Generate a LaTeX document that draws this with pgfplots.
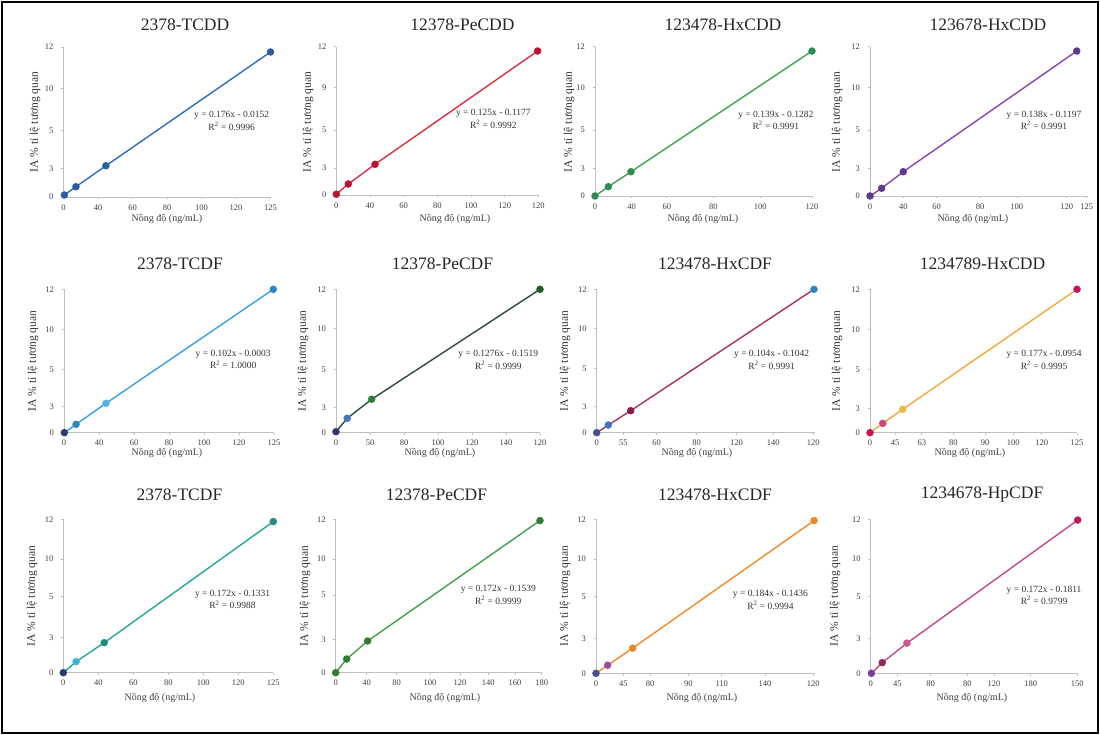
\documentclass[border=0pt]{standalone}
\usepackage{pgfplots}
\pgfplotsset{compat=1.18}
\usepackage{fontspec}
\setmainfont{Liberation Serif}
\definecolor{axisgray}{HTML}{BFBFBF}
\definecolor{tickgray}{HTML}{404040}
\definecolor{cA}{HTML}{2F6EBA}\definecolor{cAp}{HTML}{2B5C9E}
\definecolor{cB}{HTML}{D9323F}\definecolor{cBp}{HTML}{C0102E}
\definecolor{cC}{HTML}{3FA34D}\definecolor{cCp}{HTML}{2E8B57}
\definecolor{cD}{HTML}{8E44AD}\definecolor{cDp}{HTML}{5E3A8A}
\definecolor{cE}{HTML}{3AA0DC}
\definecolor{cF}{HTML}{2E4A3A}
\definecolor{cG}{HTML}{A8325E}
\definecolor{cH}{HTML}{F0A93A}
\definecolor{cI}{HTML}{26A69A}
\definecolor{cJ}{HTML}{43A047}
\definecolor{cK}{HTML}{F28C28}
\definecolor{cL}{HTML}{C04A8E}
\definecolor{navy}{HTML}{2B3A67}
\definecolor{mblue}{HTML}{2E86C1}
\definecolor{lblue}{HTML}{4FB3E8}
\definecolor{dgreen}{HTML}{1B5E20}
\definecolor{mgreen}{HTML}{2E7D32}
\definecolor{bblue}{HTML}{4472C4}
\definecolor{indigo}{HTML}{4B4E8C}
\definecolor{dred}{HTML}{8B1A4A}
\definecolor{crimson}{HTML}{C2185B}
\definecolor{pink}{HTML}{D04080}
\definecolor{yel}{HTML}{E8B84A}
\definecolor{cyan2}{HTML}{3CB4D0}
\definecolor{teal2}{HTML}{1E8C7E}
\definecolor{purp}{HTML}{9C4DA0}
\definecolor{orng}{HTML}{E8892B}
\definecolor{purp2}{HTML}{7B3F9E}
\definecolor{dmag}{HTML}{8E2A5A}
\definecolor{pink2}{HTML}{D0558E}
\pgfplotsset{
 panel/.style={scale only axis, anchor=south west, xmin=0, xmax=120, ymin=0, ymax=12,
  axis x line=bottom, axis y line=left, axis line style={draw=axisgray, line width=0.9pt, -},
  tick style={draw=axisgray, line width=0.6pt}, tick align=outside, major tick length=2.5pt,
  ticklabel style={font=\fontsize{8.5}{9}\selectfont, text=tickgray},
  xticklabel style={yshift=-1.5pt}, yticklabel style={xshift=-4pt}, clip=false},
 ln/.style={line width=1.4pt, mark=none},
 pt/.style={only marks, mark=*, mark size=3.5pt},
}
\tikzset{eq/.style={align=center, font=\fontsize{9.5}{12.5}\selectfont, text=black!80},
 ttl/.style={font=\fontsize{17.5}{19}\selectfont, text=black!85},
 yl/.style={rotate=90, font=\fontsize{11.5}{12}\selectfont, text=black!80},
 xl/.style={font=\fontsize{10}{11}\selectfont, text=black!75}}
\begin{document}
\begin{tikzpicture}[x=1pt,y=1pt]
\path[use as bounding box] (0,0) rectangle (1100,735);
\draw[line width=1.5pt] (2,2) rectangle (1098,733);
% ---------- Row 1 ----------
\begin{axis}[panel, at={(63.5pt,538pt)}, width=207pt, height=150pt,
 xtick={0,20,40,60,80,100,120}, xticklabels={0,40,60,80,100,120,125},
 ytick={0,2.3,5.3,8.7,12}, yticklabels={0,3,5,10,12}]
\addplot[ln, cA] coordinates {(0.5,0.16)(7.2,0.82)(24.6,2.5)(120,11.6)};
\addplot[pt, cAp] coordinates {(0.5,0.16)(7.2,0.82)(24.6,2.5)(120,11.6)};
\node[eq] at (axis cs:97.5,6.08) {y = 0.176x - 0.0152\\R\textsuperscript{2} = 0.9996};
\end{axis}
\begin{axis}[panel, at={(336.3pt,540pt)}, width=202pt, height=148.3pt,
 xtick={0,20,40,60,80,100,120}, xticklabels={0,40,60,80,100,120,120},
 ytick={0,2.2,5.26,8.7,12}, yticklabels={0,3,5,9,12}]
\addplot[ln, cB] coordinates {(0,0.06)(7.1,0.89)(23,2.48)(119.6,11.65)};
\addplot[pt, cBp] coordinates {(0,0.06)(7.1,0.89)(23,2.48)(119.6,11.65)};
\node[eq] at (axis cs:93.3,6.14) {y = 0.125x - 0.1177\\R\textsuperscript{2} = 0.9992};
\end{axis}
\begin{axis}[panel, at={(595pt,539pt)}, width=217pt, height=149.3pt,
 xtick={0,20.3,39.7,65.5,91.4,120}, xticklabels={0,40,60,80,100,120},
 ytick={0,2.2,5.3,8.74,12}, yticklabels={0,3,5,10,12}]
\addplot[ln, cC] coordinates {(0,0)(7.4,0.75)(19.9,1.95)(120,11.65)};
\addplot[pt, cCp] coordinates {(0,0)(7.4,0.75)(19.9,1.95)(120,11.65)};
\node[eq] at (axis cs:100,6.08) {y = 0.139x - 0.1282\\R\textsuperscript{2} = 0.9991};
\end{axis}
\begin{axis}[panel, at={(870pt,539pt)}, width=218pt, height=149.3pt,
 xtick={0,18.3,36.7,60.6,80.8,108.3,119.3}, xticklabels={0,40,60,80,100,120,125},
 ytick={0,2.2,5.3,8.74,12}, yticklabels={0,3,5,10,12}]
\addplot[ln, cD] coordinates {(0,0)(6.4,0.62)(18.3,1.95)(113.8,11.65)};
\addplot[pt, cDp] coordinates {(0,0)(6.4,0.62)(18.3,1.95)(113.8,11.65)};
\node[eq] at (axis cs:95.8,6.08) {y = 0.138x - 0.1197\\R\textsuperscript{2} = 0.9991};
\end{axis}
% ---------- Row 2 ----------
\begin{axis}[panel, at={(64pt,302.3pt)}, width=210pt, height=143.4pt,
 xtick={0,20,40,60,80,100,120}, xticklabels={0,40,60,80,100,120,125},
 ytick={0,2.2,5.27,8.65,12}, yticklabels={0,3,5,10,12}]
\addplot[ln, cE] coordinates {(0.2,0)(6.9,0.7)(24,2.46)(119.6,12)};
\addplot[pt, navy] coordinates {(0.2,0)};
\addplot[pt, mblue] coordinates {(6.9,0.7)};
\addplot[pt, lblue] coordinates {(24,2.46)};
\addplot[pt, mblue] coordinates {(119.6,12)};
\node[eq] at (axis cs:96.7,6.12) {y = 0.102x - 0.0003\\R\textsuperscript{2} = 1.0000};
\end{axis}
\begin{axis}[panel, at={(336pt,302.3pt)}, width=204pt, height=143.4pt,
 xtick={0,20,40,60,80,100,120}, xticklabels={0,50,80,100,120,140,120},
 ytick={0,2.1,5.27,8.7,12}, yticklabels={0,3,5,10,12}]
\addplot[ln, cF] coordinates {(0,0.08)(6.6,1.2)(21,2.8)(120,12)};
\addplot[pt, navy] coordinates {(0,0.08)};
\addplot[pt, bblue] coordinates {(6.6,1.2)};
\addplot[pt, mgreen] coordinates {(21,2.8)};
\addplot[pt, dgreen] coordinates {(120,12)};
\node[eq] at (axis cs:95.5,6.08) {y = 0.1276x - 0.1519\\R\textsuperscript{2} = 0.9999};
\end{axis}
\begin{axis}[panel, at={(596.7pt,302.3pt)}, width=218pt, height=143.4pt,
 xtick={0,14.7,33,55,77,97.2,119.2}, xticklabels={0,55,60,80,120,140,120},
 ytick={0,2.2,5.39,8.7,12}, yticklabels={0,3,5,10,12}]
\addplot[ln, cG] coordinates {(0,0)(6.4,0.64)(18.7,1.84)(119.6,12)};
\addplot[pt, indigo] coordinates {(0,0)};
\addplot[pt, bblue] coordinates {(6.4,0.64)};
\addplot[pt, dred] coordinates {(18.7,1.84)};
\addplot[pt, mblue] coordinates {(119.6,12)};
\node[eq] at (axis cs:96.3,6.08) {y = 0.104x - 0.1042\\R\textsuperscript{2} = 0.9991};
\end{axis}
\begin{axis}[panel, at={(870pt,302.3pt)}, width=207pt, height=143.4pt,
 xtick={0,14.5,30,48.3,66.7,83.1,99.5,120}, xticklabels={0,45,63,80,90,100,120,125},
 ytick={0,2.04,5.3,8.65,12}, yticklabels={0,3,5,10,12}]
\addplot[ln, cH] coordinates {(0,0)(7.4,0.78)(19,1.96)(120,12)};
\addplot[pt, crimson] coordinates {(0,0)};
\addplot[pt, pink] coordinates {(7.4,0.78)};
\addplot[pt, yel] coordinates {(19,1.96)};
\addplot[pt, crimson] coordinates {(120,12)};
\node[eq] at (axis cs:100.9,6.08) {y = 0.177x - 0.0954\\R\textsuperscript{2} = 0.9995};
\end{axis}
% ---------- Row 3 ----------
\begin{axis}[panel, at={(63.3pt,62.3pt)}, width=210pt, height=153.4pt,
 xtick={0,20,40,60,80,100,120}, xticklabels={0,40,60,80,100,120,125},
 ytick={0,2.77,5.95,8.9,12}, yticklabels={0,3,5,10,12}]
\addplot[ln, cI] coordinates {(0,0)(7.3,0.86)(23.4,2.35)(120,11.82)};
\addplot[pt, navy] coordinates {(0,0)};
\addplot[pt, cyan2] coordinates {(7.3,0.86)};
\addplot[pt, teal2] coordinates {(23.4,2.35)};
\addplot[pt, teal2] coordinates {(120,11.82)};
\node[eq] at (axis cs:96.7,5.72) {y = 0.172x - 0.1331\\R\textsuperscript{2} = 0.9988};
\end{axis}
\begin{axis}[panel, at={(335.7pt,62.3pt)}, width=206pt, height=153.4pt,
 xtick={0,18,35.5,55,72.4,88.9,104.4,120}, xticklabels={0,40,80,100,120,140,160,180},
 ytick={0,2.6,6.08,8.9,12}, yticklabels={0,3,5,10,12}]
\addplot[ln, cJ] coordinates {(0,0)(6.4,1.07)(18.6,2.48)(119,11.9)};
\addplot[pt, mgreen] coordinates {(0,0)(6.4,1.07)(18.6,2.48)(119,11.9)};
\node[eq] at (axis cs:94.7,6.08) {y = 0.172x - 0.1539\\R\textsuperscript{2} = 0.9999};
\end{axis}
\begin{axis}[panel, at={(596pt,61.7pt)}, width=219pt, height=154pt,
 xtick={0,15,29.6,50.6,68.9,92.6,119}, xticklabels={0,45,80,90,110,140,120},
 ytick={0,2.73,5.97,8.9,12}, yticklabels={0,3,5,10,12}]
\addplot[ln, cK] coordinates {(0,0)(6.4,0.63)(20.1,1.96)(119.5,11.9)};
\addplot[pt, indigo] coordinates {(0,0)};
\addplot[pt, purp] coordinates {(6.4,0.63)};
\addplot[pt, orng] coordinates {(20.1,1.96)};
\addplot[pt, orng] coordinates {(119.5,11.9)};
\node[eq] at (axis cs:95.6,5.72) {y = 0.184x - 0.1436\\R\textsuperscript{2} = 0.9994};
\end{axis}
\begin{axis}[panel, at={(870.7pt,61.7pt)}, width=207pt, height=154pt,
 xtick={0,15.5,34.8,56,71.5,92.8,119.8}, xticklabels={0,45,80,80,120,180,150},
 ytick={0,2.73,5.97,8.9,12}, yticklabels={0,3,5,10,12}]
\addplot[ln, cL] coordinates {(0.4,0)(6.7,0.83)(21,2.35)(120,11.94)};
\addplot[pt, purp2] coordinates {(0.4,0)};
\addplot[pt, dmag] coordinates {(6.7,0.83)};
\addplot[pt, pink2] coordinates {(21,2.35)};
\addplot[pt, crimson] coordinates {(120,11.94)};
\node[eq] at (axis cs:100.5,6.08) {y = 0.172x - 0.1811\\R\textsuperscript{2} = 0.9799};
\end{axis}
% ---------- titles ----------
\node[ttl] at (185,710) {2378-TCDD};
\node[ttl] at (462.5,710) {12378-PeCDD};
\node[ttl] at (723,710) {123478-HxCDD};
\node[ttl] at (988,710) {123678-HxCDD};
\node[ttl] at (180,471.7) {2378-TCDF};
\node[ttl] at (442.5,471.7) {12378-PeCDF};
\node[ttl] at (715,471.7) {123478-HxCDF};
\node[ttl] at (982.5,471.7) {1234789-HxCDD};
\node[ttl] at (179.5,240) {2378-TCDF};
\node[ttl] at (436.5,240) {12378-PeCDF};
\node[ttl] at (715,240) {123478-HxCDF};
\node[ttl] at (982,240) {1234678-HpCDF};
% ---------- y labels ----------
\foreach \x/\y in {35/613, 308/613, 569/613, 837/613, 33/374, 303/374, 565/374, 837/374, 32/139, 305/139, 565/139, 835/139}
 \node[yl] at (\x,\y) {IA \% tỉ lệ tương quan};
% ---------- x labels ----------
\foreach \x/\y in {167/516, 455/516, 703/516, 973/516, 167/282, 440/282, 697/282, 970/282, 160/37, 445/37, 702/37, 972/37}
 \node[xl] at (\x,\y) {Nồng độ (ng/mL)};
\end{tikzpicture}
\end{document}
